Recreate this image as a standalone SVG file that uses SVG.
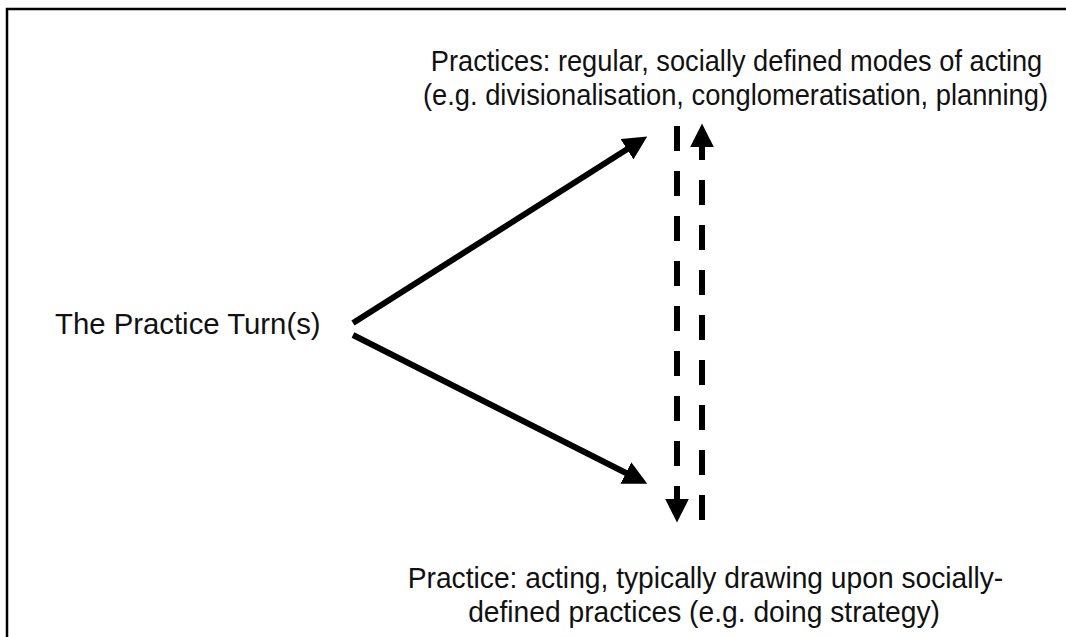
<svg xmlns="http://www.w3.org/2000/svg" width="1066" height="637" viewBox="0 0 1066 637">
  <style>
    .lbl { font-family: "Liberation Sans", Arial, sans-serif; font-size: 30px; fill: #111; }
    .mid { text-anchor: middle; }
    .solid { stroke: #000; stroke-width: 6; fill: none; }
    .dash { stroke: #000; stroke-width: 6; fill: none; stroke-dasharray: 25 20; }
  </style>
  <defs>
    <marker id="head" markerUnits="userSpaceOnUse" markerWidth="24" markerHeight="24" viewBox="0 0 20 20" refX="2" refY="10" orient="auto">
      <path d="M0,0 L20,10 L0,20 Z" fill="#000"/>
    </marker>
  </defs>

  <!-- frame -->
  <rect x="7" y="9" width="1100" height="700" fill="#fff" stroke="#000" stroke-width="2.5"/>

  <g id="node-turn">
    <text class="lbl" transform="translate(55,334) scale(0.978,1)">The Practice Turn(s)</text>
  </g>

  <g id="node-practices">
    <text class="lbl mid" transform="translate(736.5,71) scale(0.908,1)">Practices: regular, socially defined modes of acting</text>
    <text class="lbl mid" transform="translate(735.5,105) scale(0.91,1)">(e.g. divisionalisation, conglomeratisation, planning)</text>
  </g>

  <g id="node-practice">
    <text class="lbl mid" transform="translate(705.5,588) scale(0.94,1)">Practice: acting, typically drawing upon socially-</text>
    <text class="lbl mid" transform="translate(704,622) scale(0.94,1)">defined practices (e.g. doing strategy)</text>
  </g>

  <g id="connectors">
    <line class="solid" x1="353" y1="323" x2="629" y2="148" marker-end="url(#head)"/>
    <line class="solid" x1="353" y1="335" x2="628" y2="474" marker-end="url(#head)"/>
    <line class="dash" x1="677" y1="126" x2="677" y2="501" marker-end="url(#head)"/>
    <line class="dash" x1="702" y1="520" x2="702" y2="145" marker-end="url(#head)"/>
  </g>
</svg>
